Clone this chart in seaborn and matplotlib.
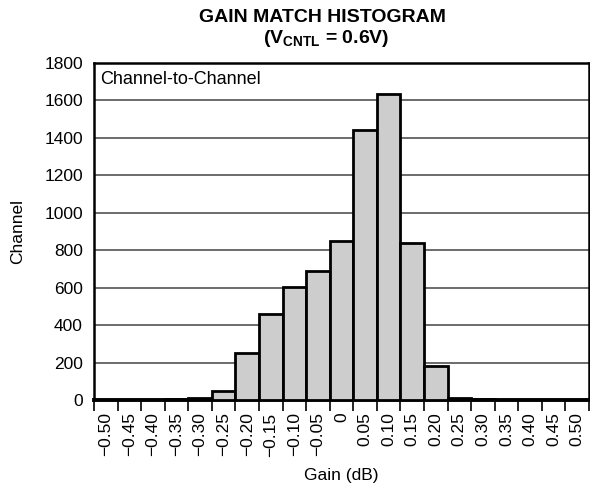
import matplotlib
matplotlib.use("Agg")
import matplotlib.pyplot as plt
import matplotlib.ticker as mticker
import seaborn as sns
import numpy as np
import pandas as pd

# Data
gain_centers = [-0.50, -0.45, -0.40, -0.35, -0.30, -0.25, -0.20, -0.15, -0.10, -0.05,
                0.00, 0.05, 0.10, 0.15, 0.20, 0.25, 0.30, 0.35, 0.40, 0.45, 0.50]
channel_counts = [0, 0, 2, 5, 10, 48, 249, 459, 604, 690,
                  848, 1440, 1632, 839, 181, 12, 5, 1, 0, 0, 0]
tick_labels = ["\u22120.50", "\u22120.45", "\u22120.40", "\u22120.35", "\u22120.30",
               "\u22120.25", "\u22120.20", "\u22120.15", "\u22120.10", "\u22120.05",
               "0", "0.05", "0.10", "0.15", "0.20", "0.25", "0.30", "0.35",
               "0.40", "0.45", "0.50"]
bin_width = 0.05

sns.set_theme(style="white")
plt.rcParams["font.family"] = ["Liberation Sans", "DejaVu Sans"]
plt.rcParams["mathtext.fontset"] = "custom"
plt.rcParams["mathtext.rm"] = "Liberation Sans"
plt.rcParams["mathtext.bf"] = "Liberation Sans:bold"
for k in ["text.color", "axes.labelcolor", "xtick.color", "ytick.color"]:
    plt.rcParams[k] = "black"

fig = plt.figure(figsize=(5.90, 4.91), dpi=100)
ax = fig.add_axes([94/590, 1-400/491, 495/590, 337/491])

edges = [c - bin_width/2 for c in gain_centers] + [gain_centers[-1] + bin_width/2]
df = pd.DataFrame({"gain": gain_centers, "count": channel_counts})

sns.histplot(data=df, x="gain", weights="count", bins=edges, ax=ax,
             color="#cdcdcd", edgecolor="black", linewidth=2.0, alpha=1.0, zorder=3)

ax.set_xlim(edges[0], edges[-1])
ax.set_ylim(0, 1800)
ax.yaxis.set_major_locator(mticker.MultipleLocator(200))
ax.set_axisbelow(True)
ax.yaxis.grid(True, color="#444444", linewidth=1.1)
ax.xaxis.grid(False)

# labels at bin centers, tick marks at bin edges
ax.set_xticks(gain_centers)
ax.set_xticklabels(tick_labels, rotation=90, fontsize=12.5)
ax.set_xticks(edges, minor=True)
ax.tick_params(axis="x", which="major", length=0, pad=9)
ax.tick_params(axis="x", which="minor", length=8, width=1.2, color="black", bottom=True)
ax.tick_params(axis="y", length=0, labelsize=12.5, pad=8)

for s in ["top", "right", "left"]:
    ax.spines[s].set_color("black")
    ax.spines[s].set_linewidth(1.8)
ax.spines["bottom"].set_color("black")
ax.spines["bottom"].set_linewidth(2.8)

ax.set_xlabel("Gain (dB)", fontsize=12.5, labelpad=8)
ax.set_ylabel("Channel", fontsize=12.5, labelpad=14)

ax.text(0.012, 0.975, "Channel-to-Channel", transform=ax.transAxes,
        ha="left", va="top", fontsize=13)

fig.text(322/590, 1-9/491, "GAIN MATCH HISTOGRAM",
         ha="center", va="top", fontsize=14, fontweight="bold")
fig.text(326/590, 1-28/491, "(V$_{\\mathbf{CNTL}}$ = 0.6V)",
         ha="center", va="top", fontsize=14, fontweight="bold")

fig.savefig("out.png", dpi=100)
